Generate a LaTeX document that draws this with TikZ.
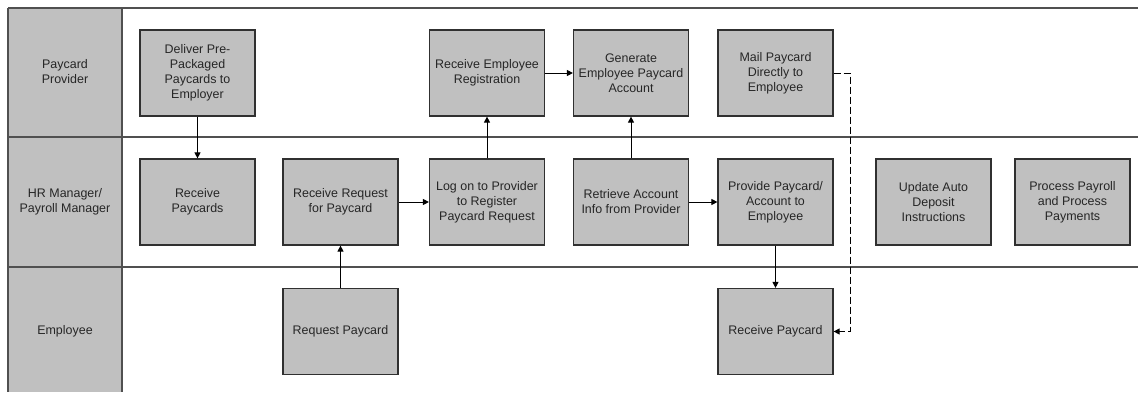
\documentclass[tikz,border=0pt]{standalone}
\usepackage{fontspec}
\setmainfont{Liberation Sans}
\usetikzlibrary{arrows.meta}
\definecolor{boxgray}{HTML}{C0C0C0}
\definecolor{edge}{HTML}{303030}
\definecolor{lane}{HTML}{505050}
\definecolor{txt}{HTML}{262626}
\tikzset{
  stepbox/.style={draw=edge, line width=1.2bp, fill=boxgray, minimum width=115bp, minimum height=86bp,
    inner sep=0pt, align=center, text=txt, font=\fontsize{12.5}{15}\selectfont},
  lanelabel/.style={align=center, text=txt, font=\fontsize{12.5}{15}\selectfont},
  flow/.style={draw=black, line width=1bp, -{Triangle[length=6bp,width=6bp]}},
  dflow/.style={flow, dash pattern=on 7bp off 3bp},
  laneline/.style={draw=lane, line width=1.3bp}
}
\begin{document}
\begin{tikzpicture}[x=1bp,y=-1bp]
\useasboundingbox (0,0) rectangle (1138,392);
% lane header column
\fill[boxgray] (8,8) rectangle (122,392);
\draw[laneline] (8,8) -- (1138,8);
\draw[laneline] (8,137) -- (1138,137);
\draw[laneline] (8,267) -- (1138,267);
\draw[laneline] (8,8) -- (8,392);
\draw[laneline] (122,8) -- (122,392);
% lane labels
\node[lanelabel] (l1) at (65,72) {Paycard\\Provider};
\node[lanelabel] (l2) at (65,202) {HR Manager/\\Payroll Manager};
\node[lanelabel] (l3) at (65,331) {Employee};
% boxes
\node[stepbox] (deliver) at (197.5,73) {Deliver Pre-\\Packaged\\Paycards to\\Employer};
\node[stepbox] (regist) at (487,73) {Receive Employee\\Registration};
\node[stepbox] (gen) at (631,73) {Generate\\Employee Paycard\\Account};
\node[stepbox] (mail) at (775.5,73) {Mail Paycard\\Directly to\\Employee};
\node[stepbox] (recv) at (197.5,202) {Receive\\Paycards};
\node[stepbox] (rreq) at (340.5,202) {Receive Request\\for Paycard};
\node[stepbox] (logon) at (487,202) {Log on to Provider\\to Register\\Paycard Request};
\node[stepbox] (retr) at (631,202) {Retrieve Account\\Info from Provider};
\node[stepbox] (prov) at (775.5,202) {Provide Paycard/\\Account to\\Employee};
\node[stepbox] (upd) at (933.5,202) {Update Auto\\Deposit\\Instructions};
\node[stepbox] (proc) at (1072.5,202) {Process Payroll\\and Process\\Payments};
\node[stepbox] (reqp) at (340.5,331.5) {Request Paycard};
\node[stepbox] (rpay) at (775.5,331.5) {Receive Paycard};
% connectors
\draw[flow] (deliver) -- (recv);
\draw[flow] (reqp) -- (rreq);
\draw[flow] (rreq) -- (logon);
\draw[flow] (logon) -- (regist);
\draw[flow] (regist) -- (gen);
\draw[flow] (retr) -- (gen);
\draw[flow] (retr) -- (prov);
\draw[flow] (prov) -- (rpay);
\coordinate (d1) at (850,73);
\coordinate (d2) at (850,331.5);
\draw[dflow] (mail.east) -- (d1) -- (d2) -- (rpay.east);
\end{tikzpicture}
\end{document}
